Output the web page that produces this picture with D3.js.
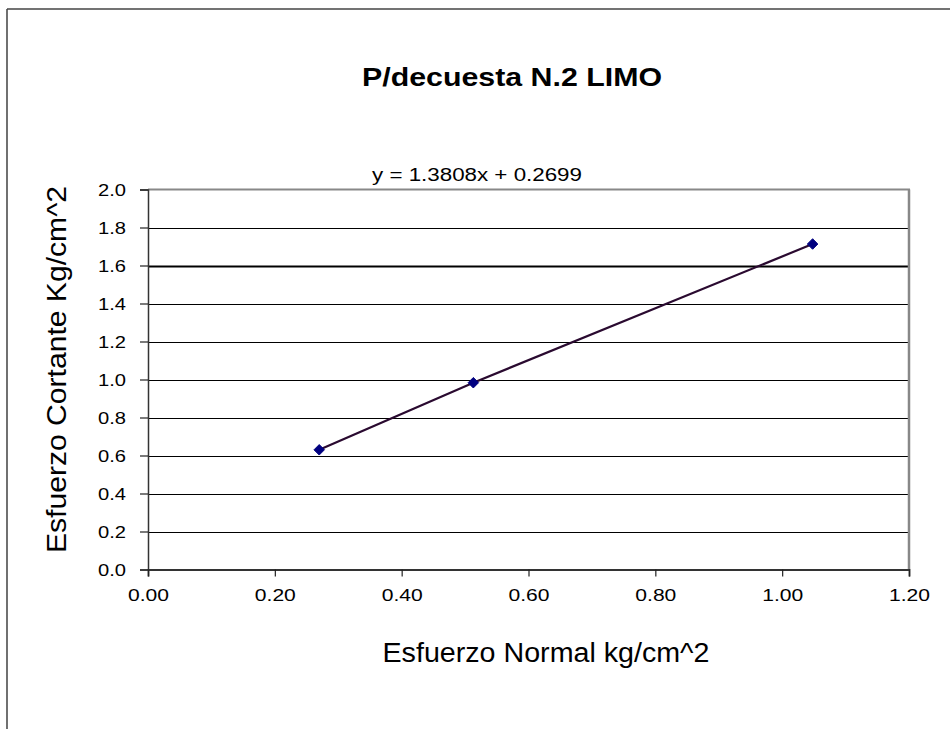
<!DOCTYPE html>
<html>
<head>
<meta charset="utf-8">
<script src="https://cdn.jsdelivr.net/npm/d3@7"></script>
<style>
  html, body { margin: 0; padding: 0; background: #fff; }
  svg text { font-family: "Liberation Sans", Arial, sans-serif; fill: #000; }
</style>
</head>
<body>
<svg id="chart" width="950" height="729"></svg>
<script>
// ---- data ----
const chartTitle = "P/decuesta N.2 LIMO";
const xAxisTitle = "Esfuerzo Normal kg/cm^2";
const yAxisTitle = "Esfuerzo Cortante Kg/cm^2";
const equationLabel = "y = 1.3808x + 0.2699";
const normalStress = [0.27, 0.513, 1.048];   // x values
const shearStress  = [0.63, 0.983, 1.713];   // y values
const xTicks = [0.00, 0.20, 0.40, 0.60, 0.80, 1.00, 1.20];
const yTicks = [0.0, 0.2, 0.4, 0.6, 0.8, 1.0, 1.2, 1.4, 1.6, 1.8, 2.0];

const svg = d3.select("#chart");
const plot = { left: 148, right: 909, top: 189.5, bottom: 569.5 };

const x = d3.scaleLinear().domain([0, 1.2]).range([plot.left, plot.right]);
const y = d3.scaleLinear().domain([0, 2.0]).range([plot.bottom, plot.top]);

// outer chart frame
svg.append("line").attr("x1", 7).attr("y1", 9).attr("x2", 7).attr("y2", 729)
  .attr("stroke", "#111").attr("stroke-width", 1.2);
svg.append("line").attr("x1", 7).attr("y1", 9).attr("x2", 950).attr("y2", 9)
  .attr("stroke", "#444").attr("stroke-width", 1.6);

// title
svg.append("text")
  .attr("x", 512).attr("y", 86)
  .attr("text-anchor", "middle")
  .attr("font-size", 26).attr("font-weight", "bold")
  .attr("textLength", 300).attr("lengthAdjust", "spacingAndGlyphs")
  .text(chartTitle);

// gridlines
svg.append("g").selectAll("line")
  .data(yTicks.filter(v => v > 0 && v < 2))
  .join("line")
  .attr("x1", plot.left).attr("x2", plot.right)
  .attr("y1", d => Math.round(y(d)) + 0.5).attr("y2", d => Math.round(y(d)) + 0.5)
  .attr("stroke", "#000")
  .attr("stroke-width", d => Math.abs(d - 1.6) < 1e-9 ? 2 : 1);

// plot border top & right (gray)
svg.append("line").attr("x1", plot.left).attr("x2", plot.right + 1)
  .attr("y1", plot.top).attr("y2", plot.top)
  .attr("stroke", "#888").attr("stroke-width", 2.2);
svg.append("line").attr("x1", plot.right).attr("x2", plot.right)
  .attr("y1", plot.top).attr("y2", plot.bottom)
  .attr("stroke", "#888").attr("stroke-width", 2.5);

// y axis
const yAxis = d3.axisLeft(y).tickValues(yTicks).tickFormat(d3.format(".1f"))
  .tickSize(8).tickPadding(14);
const gy = svg.append("g").attr("transform", `translate(${plot.left},0)`).call(yAxis);
gy.select(".domain").attr("stroke", "#333").attr("stroke-width", 1.5);
gy.selectAll(".tick line").attr("stroke", "#222").attr("stroke-width", 1.2);
gy.selectAll(".tick text")
  .attr("font-size", 17)
  .attr("fill", "#000")
  .attr("dy", "0.36em")
  .attr("textLength", 28).attr("lengthAdjust", "spacingAndGlyphs");

// x axis
const xAxis = d3.axisBottom(x).tickValues(xTicks).tickFormat(d3.format(".2f"))
  .tickSize(7).tickPadding(24);
const gx = svg.append("g").attr("transform", `translate(0,${plot.bottom})`).call(xAxis);
gx.select(".domain").attr("stroke", "#333").attr("stroke-width", 1.8);
gx.selectAll(".tick line").attr("stroke", "#222").attr("stroke-width", 1.2);
gx.selectAll(".tick text")
  .attr("font-size", 17)
  .attr("fill", "#000")
  .attr("dy", "0")
  .attr("textLength", 41).attr("lengthAdjust", "spacingAndGlyphs");

// axis titles
svg.append("text")
  .attr("x", 546).attr("y", 662)
  .attr("text-anchor", "middle")
  .attr("font-size", 27)
  .attr("textLength", 327).attr("lengthAdjust", "spacingAndGlyphs")
  .text(xAxisTitle);

svg.append("text")
  .attr("transform", `translate(66,${(186 + 553) / 2}) rotate(-90)`)
  .attr("text-anchor", "middle")
  .attr("font-size", 27)
  .attr("textLength", 367).attr("lengthAdjust", "spacingAndGlyphs")
  .text(yAxisTitle);

// equation label
svg.append("text")
  .attr("x", 372).attr("y", 181)
  .attr("font-size", 17.5)
  .attr("textLength", 210).attr("lengthAdjust", "spacingAndGlyphs")
  .text(equationLabel);

// series line
const pts = normalStress.map((v, i) => [v, shearStress[i]]);
svg.append("path")
  .datum(pts)
  .attr("fill", "none")
  .attr("stroke", "#2a0a30")
  .attr("stroke-width", 2.2)
  .attr("d", d3.line().x(d => x(d[0])).y(d => y(d[1])));

// markers
svg.append("g").selectAll("path")
  .data(pts)
  .join("path")
  .attr("transform", d => `translate(${x(d[0])},${y(d[1])})`)
  .attr("d", d3.symbol().type(d3.symbolDiamond2).size(70))
  .attr("fill", "#000080")
  .attr("stroke", "#000080")
  .attr("stroke-width", 1);
</script>
</body>
</html>
